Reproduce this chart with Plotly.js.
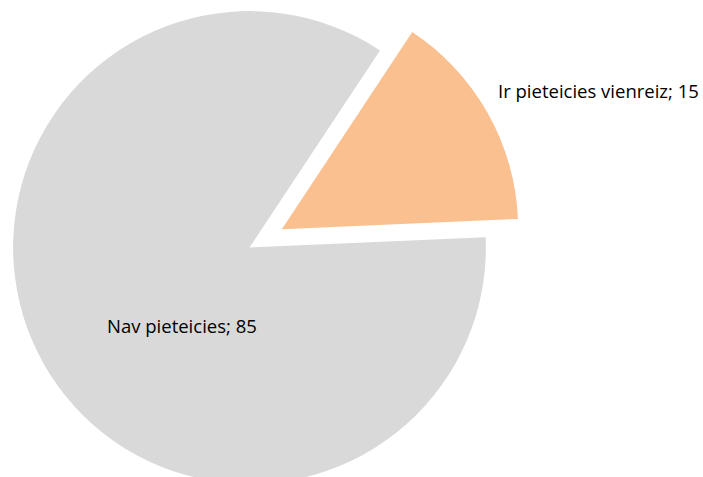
<!DOCTYPE html>
<html>
<head>
<meta charset="utf-8">
<script src="https://cdn.plot.ly/plotly-3.0.1.min.js"></script>
<style>
html,body{margin:0;padding:0;width:703px;height:477px;overflow:hidden;background:#fff;}
#chart{position:absolute;left:-40px;top:-26px;}
</style>
</head>
<body>
<div id="chart"></div>
<script>
const categories = ["Ir pieteicies vienreiz", "Nav pieteicies"];
const values = [15, 85];
const colors = ["#FAC090", "#D9D9D9"];
const pulls = [0.157, 0];

const W = 800, H = 547, offX = 40, offY = 26;
function px(x){ return (x + offX) / W; }
function py(y){ return 1 - (y + offY) / H; }

const labelPos = [[598.5, 90], [182, 325]];
const annotations = categories.map((c, i) => ({
  text: c + "; " + values[i],
  xref: "paper", yref: "paper",
  x: px(labelPos[i][0]), y: py(labelPos[i][1]),
  xanchor: "center", yanchor: "middle",
  showarrow: false,
  font: {family: "Open Sans, sans-serif", size: 18.5, color: "#000"}
}));

const data = [{
  type: "pie",
  labels: categories,
  values: values,
  marker: {colors: colors, line: {width: 0}},
  pull: pulls,
  sort: false,
  direction: "clockwise",
  rotation: 33.5,
  textinfo: "none",
  hoverinfo: "none",
  showlegend: false,
  domain: {x: [0.02, 0.70375], y: [0, 1]}
}];

const layout = {
  width: W, height: H,
  margin: {l: 0, r: 0, t: 0, b: 0},
  paper_bgcolor: "#fff",
  showlegend: false,
  annotations: annotations
};

Plotly.newPlot("chart", data, layout, {staticPlot: true, displayModeBar: false});
</script>
</body>
</html>
